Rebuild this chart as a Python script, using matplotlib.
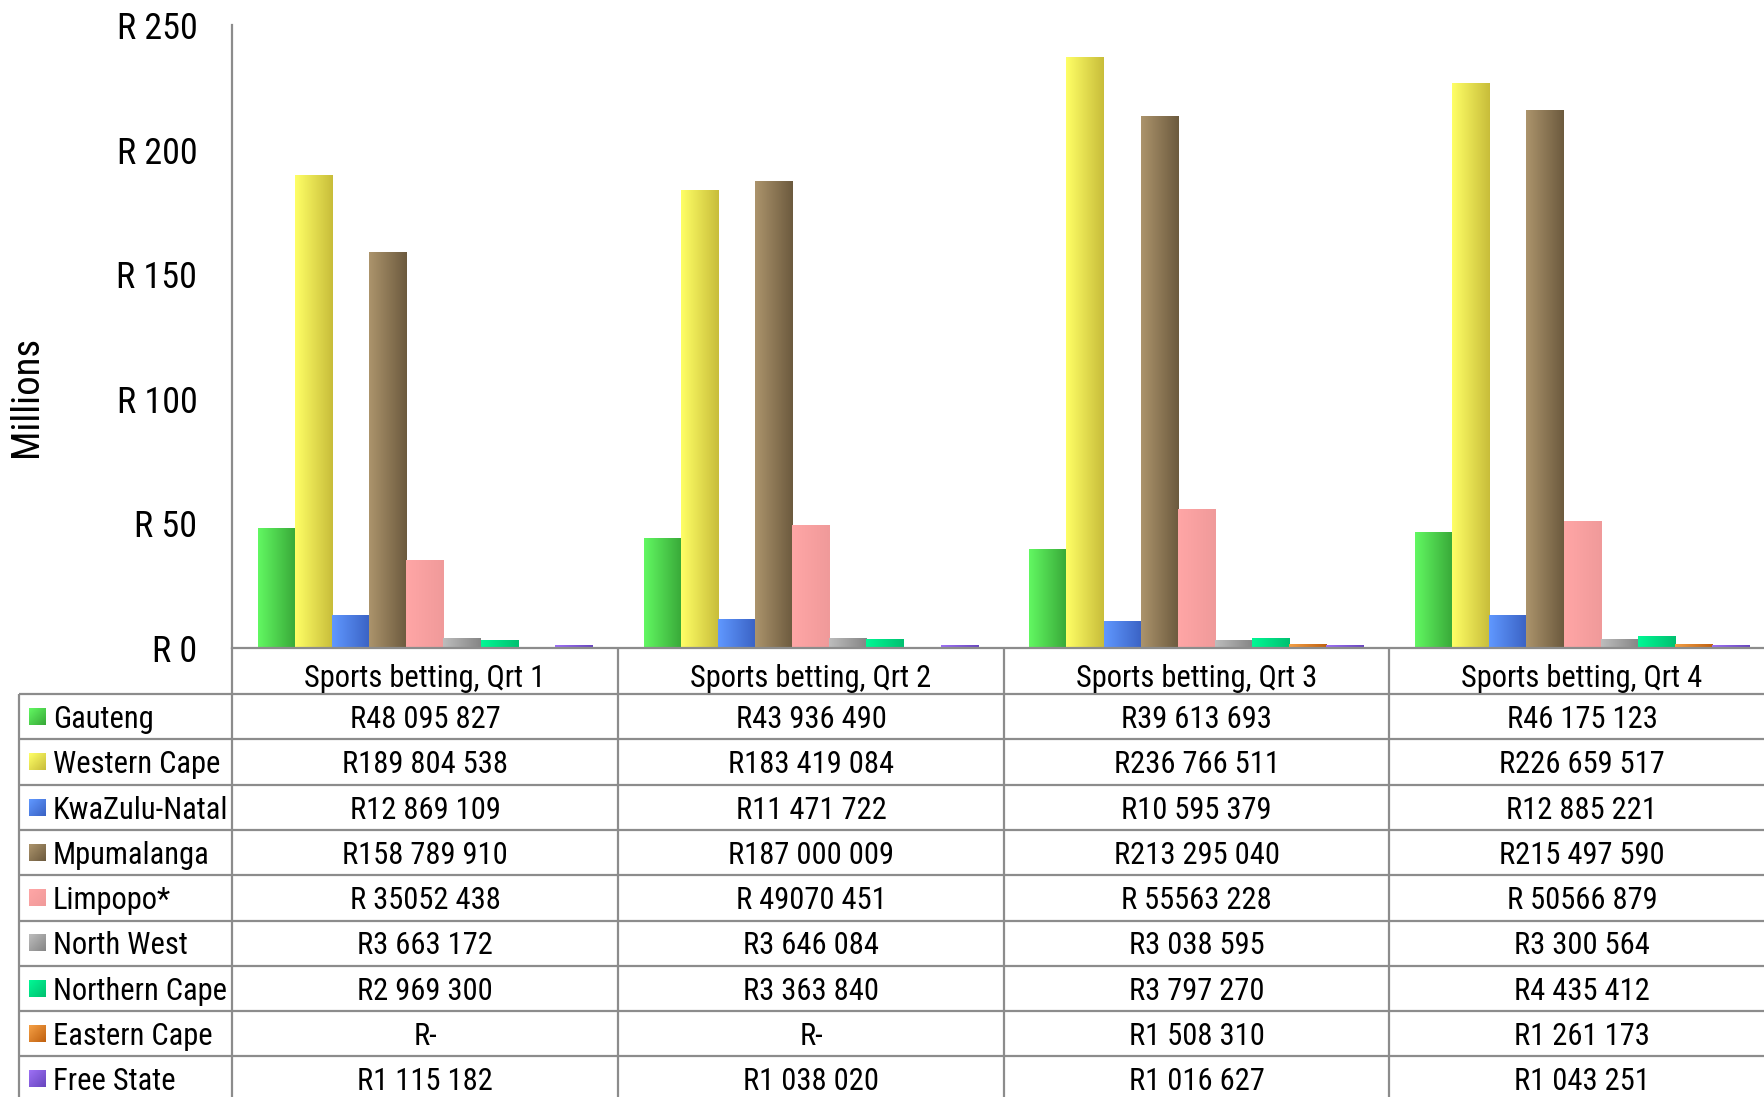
import matplotlib
matplotlib.use('Agg')
import matplotlib.pyplot as plt
import numpy as np
from matplotlib import font_manager
from matplotlib.colors import LinearSegmentedColormap

# choose an Arial-Narrow-like condensed face that is installed
_available = {f.name for f in font_manager.fontManager.ttflist}
_candidates = ['Liberation Sans Narrow', 'Arial Narrow', 'Nimbus Sans Narrow', 'Roboto Condensed',
               'Archivo Narrow', 'IBM Plex Sans Condensed', 'Sofia Sans Condensed',
               'Open Sans Condensed', 'Fira Sans Condensed']
_narrow = [c for c in _candidates if c in _available][:1]
plt.rcParams['font.family'] = _narrow + ['Liberation Sans', 'DejaVu Sans']

# ---------------- data ----------------
quarters = ['Sports betting, Qrt 1', 'Sports betting, Qrt 2',
            'Sports betting, Qrt 3', 'Sports betting, Qrt 4']
provinces = ['Gauteng', 'Western Cape', 'KwaZulu-Natal', 'Mpumalanga', 'Limpopo*',
             'North West', 'Northern Cape', 'Eastern Cape', 'Free State']

q1_text = ['R48 095 827', 'R189 804 538', 'R12 869 109', 'R158 789 910', 'R 35052 438',
           'R3 663 172', 'R2 969 300', 'R-', 'R1 115 182']
q2_text = ['R43 936 490', 'R183 419 084', 'R11 471 722', 'R187 000 009', 'R 49070 451',
           'R3 646 084', 'R3 363 840', 'R-', 'R1 038 020']
q3_text = ['R39 613 693', 'R236 766 511', 'R10 595 379', 'R213 295 040', 'R 55563 228',
           'R3 038 595', 'R3 797 270', 'R1 508 310', 'R1 016 627']
q4_text = ['R46 175 123', 'R226 659 517', 'R12 885 221', 'R215 497 590', 'R 50566 879',
           'R3 300 564', 'R4 435 412', 'R1 261 173', 'R1 043 251']

ytick_values = [0, 50, 100, 150, 200, 250]
ytick_labels = ['R 0', 'R 50', 'R 100', 'R 150', 'R 200', 'R 250']

# gradient colours (left, right) per province
colors_left = ['#62F862', '#FFFF66', '#6098FF', '#AC946C', '#FFA6A6',
               '#BDBDBD', '#00F895', '#F5A045', '#9D70F5']
colors_right = ['#38A838', '#C8BD3A', '#3A62C4', '#6C5A3E', '#F09A9A',
                '#858585', '#00C070', '#C0600F', '#6846BE']


def to_millions(s):
    digits = s.replace('R', '').replace(' ', '').replace('-', '')
    return int(digits) / 1e6 if digits else 0.0


table_cols = [q1_text, q2_text, q3_text, q4_text]
values = np.array([[to_millions(s) for s in col] for col in table_cols])  # (4, 9)

# ---------------- figure ----------------
W, H = 1764, 1097
fig = plt.figure(figsize=(W / 100, H / 100), dpi=100)
fig.patch.set_facecolor('white')

# the plot area (and table) run slightly past the right edge of the picture
ax_left, ax_right, ax_top, ax_bot = 232, 1775, 25, 648
ax = fig.add_axes([ax_left / W, 1 - ax_bot / H, (ax_right - ax_left) / W, (ax_bot - ax_top) / H])
ax.set_facecolor('none')

n = len(provinces)
w = 0.0962
x = np.arange(len(quarters))
grad = np.linspace(0, 1, 256).reshape(1, -1)
for j, prov in enumerate(provinces):
    cm = LinearSegmentedColormap.from_list(prov, [colors_left[j], colors_right[j]])
    bars = ax.bar(x + (j - (n - 1) / 2) * w, values[:, j], w,
                  color=colors_left[j], linewidth=0, zorder=2)
    for p in bars:
        h = p.get_height()
        if h <= 0:
            continue
        x0 = p.get_x()
        ax.imshow(grad, extent=[x0, x0 + p.get_width(), 0, h], aspect='auto',
                  cmap=cm, interpolation='bilinear', zorder=3)

ax.set_xlim(-0.5, len(quarters) - 0.5)
ax.set_ylim(0, 250)
ax.set_yticks(ytick_values)
ax.set_yticklabels(ytick_labels)
ax.set_xticks([])
ax.tick_params(axis='y', length=0, labelsize=26, pad=25)
for s in ['top', 'right']:
    ax.spines[s].set_visible(False)
for s in ['left', 'bottom']:
    ax.spines[s].set_color('#8c8c8c')
    ax.spines[s].set_linewidth(1.6)
    ax.spines[s].set_zorder(5)

fig.text(27 / W, 1 - 396 / H, 'Millions', rotation=90, ha='center', va='center', fontsize=28)

# ---------------- data table ----------------
tab = fig.add_axes([0, 0, 1, 1])
tab.set_xlim(0, W)
tab.set_ylim(H, 0)
tab.axis('off')
tab.patch.set_visible(False)

line_kw = dict(color='#8c8c8c', linewidth=1.6, solid_capstyle='butt')
col_edges = [232, 618, 1004, 1389, 1775]
leg_left = 19
header_top, header_bot = 648, 694
row_h = 45.3
rows_top = [header_bot + i * row_h for i in range(n)]

for xe in col_edges[:-1]:
    tab.plot([xe, xe], [header_top, H], **line_kw)
tab.plot([leg_left, leg_left], [header_bot, H], **line_kw)
for i in range(n):
    yl = rows_top[i]
    tab.plot([leg_left, W], [yl, yl], **line_kw)

fs = 22
for c, q in enumerate(quarters):
    xc = (col_edges[c] + col_edges[c + 1]) / 2
    tab.text(xc, header_top + 39, q, ha='center', va='baseline', fontsize=fs)
    for i in range(n):
        tab.text(xc, rows_top[i] + 34, table_cols[c][i], ha='center', va='baseline', fontsize=fs)

for i, prov in enumerate(provinces):
    yt = rows_top[i] + 14
    cm = LinearSegmentedColormap.from_list(prov + 'L', [colors_left[i], colors_right[i]])
    g2 = (np.linspace(0, 1, 32)[None, :] + np.linspace(0, 1, 32)[:, None]) / 2
    tab.imshow(g2, extent=[29, 46, yt + 17, yt], aspect='auto', cmap=cm,
               interpolation='bilinear')
    tab.text(53, rows_top[i] + 34, prov, ha='left', va='baseline', fontsize=fs)

tab.set_xlim(0, W)
tab.set_ylim(H, 0)

fig.savefig('out.png', dpi=100, facecolor='white')
